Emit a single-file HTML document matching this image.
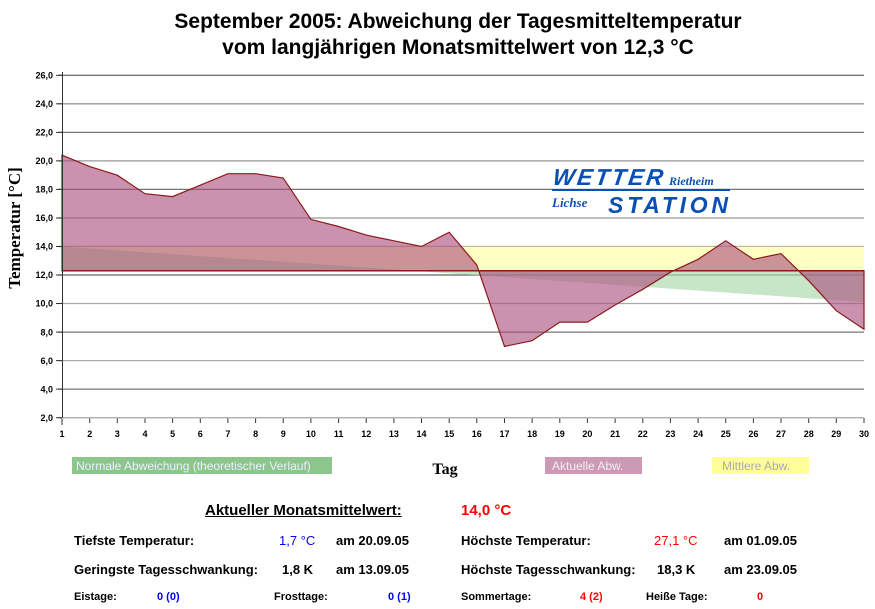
<!DOCTYPE html>
<html><head><meta charset="utf-8"><style>
body{margin:0;background:#fff;width:875px;height:609px;overflow:hidden;font-family:"Liberation Sans",sans-serif}
.t{position:absolute;font-size:13px;font-weight:bold;color:#000;white-space:nowrap}
</style></head><body>
<svg width="875" height="609" style="position:absolute;left:0;top:0" font-family="Liberation Sans, sans-serif">
<text x="458" y="28" text-anchor="middle" font-size="21" font-weight="bold">September 2005: Abweichung der Tagesmitteltemperatur</text>
<text x="458" y="54" text-anchor="middle" font-size="21" font-weight="bold">vom langjährigen Monatsmittelwert von 12,3 °C</text>
<g stroke-width="1.3">
<line x1="58" x2="864" y1="75.3" y2="75.3" stroke="#777"/>
<line x1="58" x2="864" y1="103.8" y2="103.8" stroke="#999"/>
<line x1="58" x2="864" y1="132.4" y2="132.4" stroke="#777"/>
<line x1="58" x2="864" y1="160.9" y2="160.9" stroke="#999"/>
<line x1="58" x2="864" y1="189.4" y2="189.4" stroke="#777"/>
<line x1="58" x2="864" y1="218" y2="218" stroke="#999"/>
<line x1="58" x2="864" y1="246.5" y2="246.5" stroke="#777"/>
<line x1="58" x2="864" y1="275" y2="275" stroke="#666"/>
<line x1="58" x2="864" y1="303.5" y2="303.5" stroke="#aaa"/>
<line x1="58" x2="864" y1="332.1" y2="332.1" stroke="#777"/>
<line x1="58" x2="864" y1="360.6" y2="360.6" stroke="#aaa"/>
<line x1="58" x2="864" y1="389.1" y2="389.1" stroke="#777"/>
<line x1="58" x2="864" y1="417.7" y2="417.7" stroke="#aaa"/>
</g>
<rect x="62" y="246.5" width="802" height="24.3" fill="#ffffc4"/>
<polygon points="62,246.5 864,302.1 864,270.8 62,270.8" fill="#a9d9a9" opacity="0.65"/>
<polygon points="62,270.8 62,155.2 89.7,166.6 117.3,175.2 145,193.7 172.6,196.6 200.3,185.2 227.9,173.7 255.6,173.7 283.2,178 310.9,219.4 338.6,226.5 366.2,235.1 393.9,240.8 421.5,246.5 449.2,232.2 476.8,265.1 504.5,346.4 532.1,340.7 559.8,322.1 587.4,322.1 615.1,305 642.8,289.3 670.4,272.2 698.1,259.3 725.7,240.8 753.4,259.3 781,253.6 808.7,280.7 836.3,310.7 864,329.2 864,270.8" fill="#a84a7c" fill-opacity="0.6" stroke="#8b1a1a" stroke-width="1.2"/>
<line x1="62" x2="864" y1="270.8" y2="270.8" stroke="#8b1a1a" stroke-width="1.5"/>
<line x1="62.5" x2="62.5" y1="72" y2="418" stroke="#333"/>
<g font-size="9" font-weight="bold" text-anchor="end">
<text x="53" y="78.5">26,0</text><text x="53" y="107">24,0</text><text x="53" y="135.6">22,0</text><text x="53" y="164.1">20,0</text><text x="53" y="192.6">18,0</text><text x="53" y="221.2">16,0</text><text x="53" y="249.7">14,0</text><text x="53" y="278.2">12,0</text><text x="53" y="306.7">10,0</text><text x="53" y="335.3">8,0</text><text x="53" y="363.8">6,0</text><text x="53" y="392.3">4,0</text><text x="53" y="420.9">2,0</text>
</g>
<g stroke="#333"><line x1="56" x2="62" y1="75.3" y2="75.3"/><line x1="56" x2="62" y1="103.8" y2="103.8"/><line x1="56" x2="62" y1="132.4" y2="132.4"/><line x1="56" x2="62" y1="160.9" y2="160.9"/><line x1="56" x2="62" y1="189.4" y2="189.4"/><line x1="56" x2="62" y1="218" y2="218"/><line x1="56" x2="62" y1="246.5" y2="246.5"/><line x1="56" x2="62" y1="275" y2="275"/><line x1="56" x2="62" y1="303.5" y2="303.5"/><line x1="56" x2="62" y1="332.1" y2="332.1"/><line x1="56" x2="62" y1="360.6" y2="360.6"/><line x1="56" x2="62" y1="389.1" y2="389.1"/><line x1="56" x2="62" y1="417.7" y2="417.7"/></g>
<g font-size="9" font-weight="bold" text-anchor="middle" id="xl">
<text x="62" y="437">1</text><text x="89.7" y="437">2</text><text x="117.3" y="437">3</text><text x="145" y="437">4</text><text x="172.6" y="437">5</text><text x="200.3" y="437">6</text><text x="227.9" y="437">7</text><text x="255.6" y="437">8</text><text x="283.2" y="437">9</text><text x="310.9" y="437">10</text><text x="338.6" y="437">11</text><text x="366.2" y="437">12</text><text x="393.9" y="437">13</text><text x="421.5" y="437">14</text><text x="449.2" y="437">15</text><text x="476.8" y="437">16</text><text x="504.5" y="437">17</text><text x="532.1" y="437">18</text><text x="559.8" y="437">19</text><text x="587.4" y="437">20</text><text x="615.1" y="437">21</text><text x="642.8" y="437">22</text><text x="670.4" y="437">23</text><text x="698.1" y="437">24</text><text x="725.7" y="437">25</text><text x="753.4" y="437">26</text><text x="781" y="437">27</text><text x="808.7" y="437">28</text><text x="836.3" y="437">29</text><text x="864" y="437">30</text>
</g>
<g stroke="#333">
<path d="M62 418v7M89.7 418v5M117.3 418v5M145 418v5M172.6 418v5M200.3 418v5M227.9 418v5M255.6 418v5M283.2 418v5M310.9 418v5M338.6 418v5M366.2 418v5M393.9 418v5M421.5 418v5M449.2 418v5M476.8 418v5M504.5 418v5M532.1 418v5M559.8 418v5M587.4 418v5M615.1 418v5M642.8 418v5M670.4 418v5M698.1 418v5M725.7 418v5M753.4 418v5M781 418v5M808.7 418v5M836.3 418v5M864 418v5"/>
<line x1="62" x2="864" y1="418" y2="418" stroke="#bbb"/>
</g>
<text transform="translate(20,228) rotate(-90)" text-anchor="middle" font-family="Liberation Serif, serif" font-size="17" font-weight="bold">Temperatur [°C]</text>
<text x="445" y="474" text-anchor="middle" font-family="Liberation Serif, serif" font-size="16" font-weight="bold">Tag</text>
<g font-style="italic" font-weight="bold" fill="#0a50b4">
<text x="552" y="185" font-size="23" transform="skewX(-8)" transform-origin="552 185" textLength="110">WETTER</text>
<text x="669" y="185" font-size="12" font-family="Liberation Serif, serif">Rietheim</text>
<rect x="552" y="189" width="178" height="2"/>
<text x="552" y="207" font-size="13" font-family="Liberation Serif, serif">Lichse</text>
<text x="608" y="213" font-size="23" textLength="120">STATION</text>
</g>
<rect x="72" y="457" width="260" height="17" fill="#80c080" fill-opacity="0.9"/>
<text x="76" y="470" font-size="12" fill="#eef">Normale Abweichung (theoretischer Verlauf)</text>
<rect x="545" y="457" width="97" height="17" fill="#cc9ab4"/>
<text x="552" y="470" font-size="12" fill="#f4eef2">Aktuelle Abw.</text>
<rect x="712" y="457" width="97" height="17" fill="#ffff99"/>
<text x="722" y="470" font-size="12" fill="#aaa">Mittlere Abw.</text>
</svg>
<div class="t" style="left:205px;top:502px;font-size:15px;text-decoration:underline">Aktueller Monatsmittelwert:</div>
<div class="t" style="left:461px;top:502px;font-size:15px;color:#f00">14,0 °C</div>
<div class="t" style="left:74px;top:533px">Tiefste Temperatur:</div>
<div class="t" style="left:279px;top:533px;color:#00f;font-weight:normal">1,7 °C</div>
<div class="t" style="left:336px;top:533px">am 20.09.05</div>
<div class="t" style="left:461px;top:533px">Höchste Temperatur:</div>
<div class="t" style="left:654px;top:533px;color:#f00;font-weight:normal">27,1 °C</div>
<div class="t" style="left:724px;top:533px">am 01.09.05</div>
<div class="t" style="left:74px;top:562px">Geringste Tagesschwankung:</div>
<div class="t" style="left:282px;top:562px">1,8 K</div>
<div class="t" style="left:336px;top:562px">am 13.09.05</div>
<div class="t" style="left:461px;top:562px">Höchste Tagesschwankung:</div>
<div class="t" style="left:657px;top:562px">18,3 K</div>
<div class="t" style="left:724px;top:562px">am 23.09.05</div>
<div class="t" style="left:74px;top:591px;font-size:11px">Eistage:</div>
<div class="t" style="left:157px;top:591px;font-size:11px;color:#00f">0 (0)</div>
<div class="t" style="left:274px;top:591px;font-size:11px">Frosttage:</div>
<div class="t" style="left:388px;top:591px;font-size:11px;color:#00f">0 (1)</div>
<div class="t" style="left:461px;top:591px;font-size:11px">Sommertage:</div>
<div class="t" style="left:580px;top:591px;font-size:11px;color:#f00">4 (2)</div>
<div class="t" style="left:646px;top:591px;font-size:11px">Heiße Tage:</div>
<div class="t" style="left:757px;top:591px;font-size:11px;color:#f00">0</div>
</body></html>
